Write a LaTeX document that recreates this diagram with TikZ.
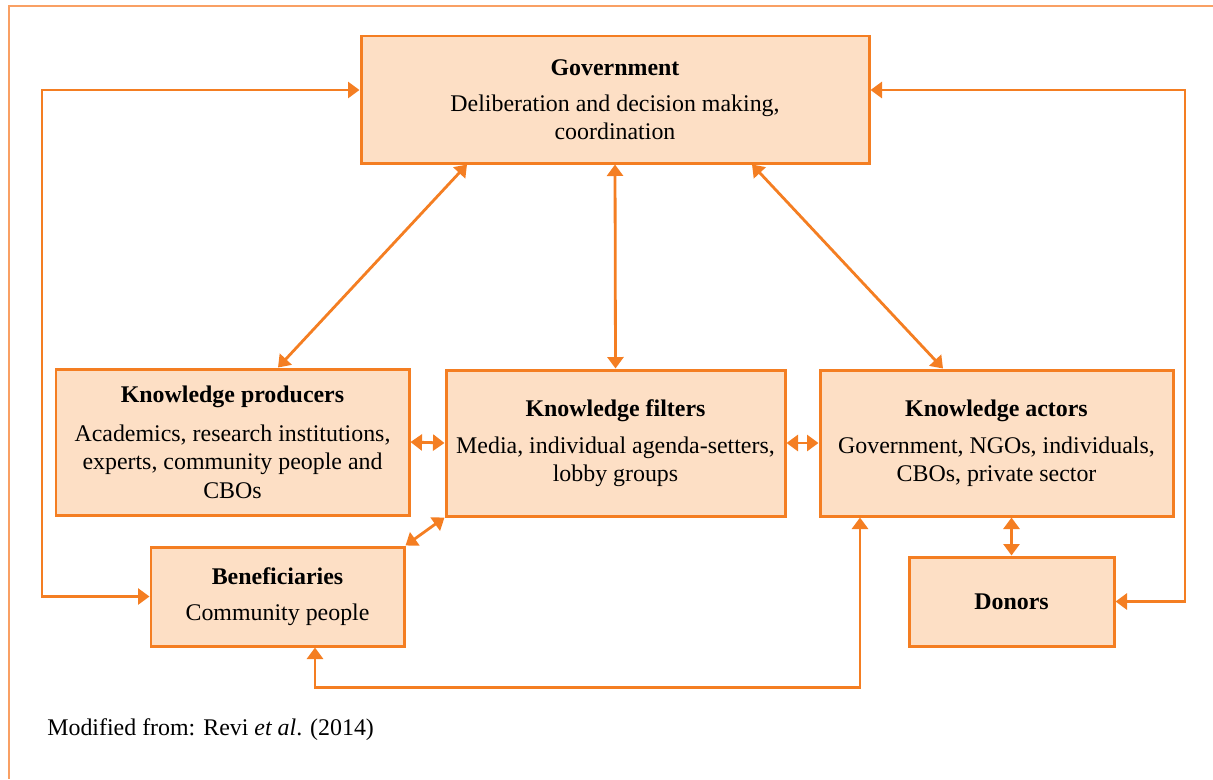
\documentclass[tikz,border=0pt]{standalone}
\usepackage{fontspec}
\setmainfont{Liberation Serif}
\usepackage{tikz}
\usetikzlibrary{arrows.meta}
\definecolor{boxorange}{rgb}{0.95686, 0.49412, 0.13333}
\definecolor{boxfill}{rgb}{0.99216, 0.87451, 0.77255}
\definecolor{frameorange}{rgb}{0.97647, 0.62745, 0.39216}

\tikzset{
  actor/.style={draw=boxorange, fill=boxfill, line width=1.7pt, align=center,
    font=\fontsize{13.6}{16}\selectfont, inner sep=0pt},
  link/.style={draw=boxorange, line width=1.6pt,
    {Triangle[length=2.3mm,width=3.2mm]}-{Triangle[length=2.3mm,width=3.2mm]}}
}

\begin{document}
\begin{tikzpicture}
\useasboundingbox (0,0) rectangle (24.26,-15.58);
\draw[frameorange, line width=0.8pt] (24.26,-0.12) -- (0.18,-0.12) -- (0.18,-15.58);

\node[actor, minimum width=10.16cm, minimum height=2.54cm] (gov) at (12.3,-1.99)
  {\textbf{Government}\\[4.5pt] Deliberation and decision making,\\ coordination};
\node[actor, minimum width=7.06cm, minimum height=2.92cm] (producers) at (4.65,-8.84)
  {\textbf{Knowledge producers}\\[6.5pt] Academics, research institutions,\\ experts, community people and\\ CBOs};
\node[actor, minimum width=6.78cm, minimum height=2.92cm] (filters) at (12.31,-8.86)
  {\textbf{Knowledge filters}\\[5pt] Media, individual agenda-setters,\\ lobby groups};
\node[actor, minimum width=7.06cm, minimum height=2.92cm] (actors) at (19.93,-8.86)
  {\textbf{Knowledge actors}\\[5pt] Government, NGOs, individuals,\\ CBOs, private sector};
\node[actor, minimum width=5.06cm, minimum height=1.98cm] (benef) at (5.55,-11.93)
  {\textbf{Beneficiaries}\\[4.5pt] Community people};
\node[actor, minimum width=4.1cm, minimum height=1.78cm] (donors) at (20.23,-12.03)
  {\textbf{Donors}};

\coordinate (govleft) at ([yshift=.19cm]gov.west);
\coordinate (govright) at ([yshift=.19cm]gov.east);
\coordinate (lpost) at (0.84,0);
\coordinate (rpost) at (23.7,0);

\draw[link] (govleft) -- (lpost |- govleft) -- (lpost |- benef.west) -- (benef.west);
\draw[link] (govright) -- (rpost |- govright) -- (rpost |- donors.east) -- (donors.east);
\draw[link] ([xshift=-2.96cm]gov.south) -- ([xshift=.91cm]producers.north);
\draw[link] (gov.south) -- (filters.north);
\draw[link] ([xshift=2.74cm]gov.south) -- ([xshift=-1.07cm]actors.north);
\draw[link] (producers.east) -- (filters.west);
\draw[link] (filters.east) -- (actors.west);
\draw[link] (filters.south west) -- (benef.north east);
\draw[link] (donors.north |- actors.south) -- (donors.north);
\draw[link] ([xshift=.75cm]benef.south) -- ++(0,-.8) -| ([xshift=-2.73cm]actors.south);

\node[anchor=west, font=\fontsize{13.6}{16}\selectfont, inner sep=0pt] (source) at (0.94,-14.6)
  {Modified from: Revi \textit{et al}. (2014)};
\end{tikzpicture}
\end{document}
